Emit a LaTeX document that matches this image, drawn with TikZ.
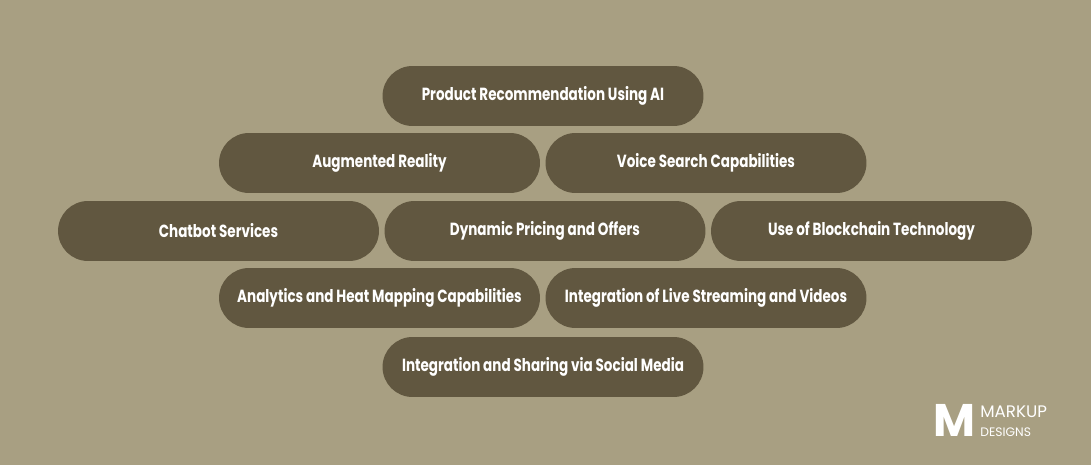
\documentclass[tikz,border=0pt]{standalone}
\usepackage{fontspec}
\setmainfont[FakeStretch=0.77]{Poppins}
\newfontfamily\logofont{Poppins}
\definecolor{bgtan}{HTML}{A89F82}
\definecolor{pillbrown}{HTML}{615740}
\tikzset{
  pill/.style={fill=pillbrown, rounded corners=0.6cm, minimum width=6.42cm, minimum height=1.2cm, text=white, font=\bfseries\fontsize{10}{12}\selectfont, inner sep=0pt},
}
\begin{document}
\begin{tikzpicture}[x=0.02cm,y=-0.02cm]
\fill[bgtan] (0,0) rectangle (1091,465);
\useasboundingbox (0,0) rectangle (1091,465);

\node[pill] (prod) at (543,96) {Product Recommendation Using AI};

\node[pill] (ar) at (379.5,163) {Augmented Reality};
\node[pill] (voice) at (706,163) {Voice Search Capabilities};

\node[pill] (chat) at (218.5,231) {Chatbot Services};
\node[pill] (price) at (545,231) {Dynamic Pricing and Offers};
\node[pill] (block) at (871.5,231) {Use of Blockchain Technology};

\node[pill] (heat) at (379.5,298) {Analytics and Heat Mapping Capabilities};
\node[pill] (live) at (706,298) {Integration of Live Streaming and Videos};

\node[pill] (social) at (543,367) {Integration and Sharing via Social Media};

% logo
\node[text=white, inner sep=0pt, font=\logofont\bfseries\fontsize{26}{26}\selectfont] (logom) at (954,420) {M};
\node[text=white, anchor=west, inner sep=0pt, font=\logofont\fontsize{9.5}{10}\selectfont] (logotop) at (980,412) {MARKUP};
\node[text=white, anchor=west, inner sep=0pt, font=\logofont\fontsize{7}{8}\selectfont] (logobot) at (980,432) {DESIGNS};
\end{tikzpicture}
\end{document}
